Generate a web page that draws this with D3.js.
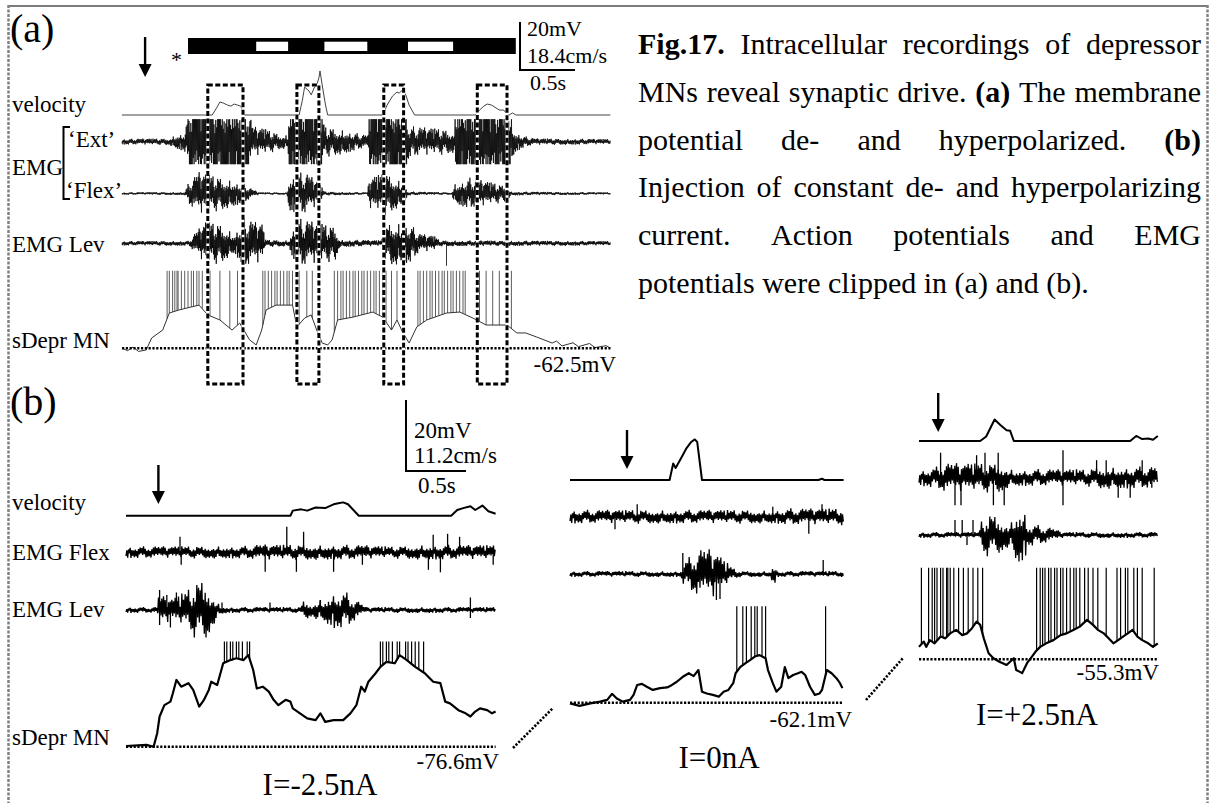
<!DOCTYPE html>
<html>
<head>
<meta charset="utf-8">
<script src="https://cdn.jsdelivr.net/npm/d3@7"></script>
<style>
  html, body { margin: 0; padding: 0; background: #fff; }
  svg { display: block; }
  text { font-family: "Liberation Serif", "Times New Roman", serif; fill: #000; }
</style>
</head>
<body>
<svg id="fig" width="1210" height="803"></svg>
<script>
// ---------------- data ----------------
// Panel (a): time in s, membrane potential in mV, velocity in cm/s, EMG in relative units
const aRest = -62.5;
const aMembrane = [[0,-62.4],[0.05,-63.5],[0.1,-62.0],[0.15,-63.8],[0.22,-63.2],[0.27,-58.2],[0.37,-54.9],[0.43,-47.8],[0.52,-46.5],[0.70,-44.5],[0.78,-48.6],[0.89,-50.7],[1.00,-54.9],[1.07,-52.0],[1.16,-59.0],[1.22,-61.1],[1.27,-54.9],[1.31,-46.5],[1.40,-44.5],[1.55,-44.5],[1.59,-53.6],[1.66,-49.9],[1.72,-48.6],[1.77,-54.9],[1.82,-60.3],[1.87,-61.1],[1.91,-59.0],[1.96,-50.7],[2.10,-49.5],[2.28,-47.4],[2.37,-49.5],[2.45,-54.9],[2.50,-50.7],[2.55,-55.7],[2.61,-60.3],[2.68,-53.6],[2.77,-50.7],[2.95,-47.8],[3.07,-47.4],[3.19,-49.9],[3.31,-52.8],[3.50,-52.8],[3.59,-56.1],[3.67,-56.1],[3.77,-57.8],[3.91,-60.3],[3.95,-59.5],[4.0,-61.5],[4.1,-60.2],[4.15,-61.8],[4.25,-60.5],[4.3,-62.2],[4.4,-61.4],[4.44,-62.4]];
const aSpikes = [0.41,0.43,0.46,0.48,0.50,0.51,0.54,0.57,0.60,0.63,0.65,0.68,0.70,0.73,0.80,0.89,0.98,1.05,
  1.28,1.30,1.33,1.36,1.39,1.41,1.44,1.47,1.50,1.52,1.55,1.61,1.68,1.73,
  1.93,1.96,1.99,2.01,2.04,2.07,2.10,2.12,2.15,2.18,2.20,2.23,2.26,2.29,2.31,2.34,2.37,2.40,2.45,2.50,2.55,
  2.69,2.71,2.74,2.77,2.80,2.82,2.85,2.88,2.91,2.93,2.96,2.99,3.01,3.04,3.07,3.10,3.12,3.25,3.31,3.37,3.43,3.50,3.54];
const aSpikeClip = -30.2;
const aVelocity = [[0,0],[0.82,0],[0.86,2.7],[0.89,5.0],[0.92,4.6],[0.96,3.8],[0.99,3.4],[1.02,4.2],[1.05,3.8],[1.08,3.4],[1.10,1.1],[1.11,0],[1.61,0],[1.64,5.7],[1.66,10.7],[1.70,9.2],[1.72,7.7],[1.75,10.7],[1.77,11.5],[1.79,14.2],[1.80,16.9],[1.82,11.5],[1.85,3.8],[1.87,0],[2.37,0],[2.41,3.8],[2.46,7.3],[2.50,8.8],[2.52,8.4],[2.55,9.6],[2.58,7.7],[2.61,3.8],[2.66,0],[3.21,0],[3.25,1.9],[3.29,3.4],[3.32,4.2],[3.36,3.8],[3.40,2.7],[3.43,1.9],[3.47,1.9],[3.50,0.4],[3.52,0],[3.55,0.8],[3.58,0],[4.44,0]];
const aExtEnv = [[0,0.13],[0.43,0.15],[0.48,0.3],[0.57,0.45],[0.63,2.2],[1.11,2.2],[1.19,0.7],[1.30,0.6],[1.43,0.35],[1.51,0.3],[1.52,2.2],[1.81,2.2],[1.84,0.7],[2.02,0.55],[2.16,0.35],[2.24,0.3],[2.25,2.2],[2.57,2.2],[2.61,0.7],[2.89,0.6],[3.02,0.5],[3.04,2.2],[3.50,2.2],[3.57,0.5],[3.66,0.25],[3.75,0.15],[4.44,0.12]];
const aFlexEnv = [[0,0.06],[0.57,0.08],[0.61,0.6],[0.70,1.1],[0.93,0.8],[1.11,0.5],[1.19,0.2],[1.25,0.06],[1.50,0.06],[1.52,0.9],[1.66,1.1],[1.79,0.6],[1.84,0.1],[2.23,0.06],[2.25,0.8],[2.39,1.1],[2.55,0.6],[2.60,0.1],[3.00,0.06],[3.02,0.5],[3.16,0.8],[3.34,0.6],[3.49,0.4],[3.54,0.1],[4.44,0.06]];
const aLevEnv = [[0,0.09],[0.61,0.1],[0.66,0.4],[0.76,0.9],[0.90,0.8],[1.02,0.4],[1.11,1.0],[1.28,0.8],[1.30,0.15],[1.52,0.12],[1.54,0.5],[1.61,1.0],[1.94,0.7],[1.98,0.15],[2.36,0.12],[2.39,0.6],[2.44,0.9],[2.62,0.8],[2.70,0.4],[2.84,0.3],[2.89,0.12],[4.44,0.09]];
const aLevSpikes = [[2.95,-0.9]];
const aBarSpan = [0.60, 3.58];
const aBarGaps = [[1.22,1.51],[1.84,2.23],[2.60,3.01]];
const aBoxes = [[0.78,1.10],[1.59,1.79],[2.38,2.56],[3.23,3.50]];
const aArrowT = 0.21;

// Panel (b), I = -2.5 nA
const bLeftRest = -76.6;
const bLeftMembrane = [[0,-76.4],[0.17,-76.1],[0.23,-76.6],[0.26,-72.8],[0.28,-68.1],[0.32,-64.9],[0.37,-63.9],[0.39,-61.6],[0.42,-57.8],[0.46,-59.7],[0.52,-58.7],[0.56,-60.6],[0.61,-65.3],[0.65,-63.4],[0.69,-60.6],[0.71,-58.3],[0.76,-59.2],[0.81,-53.1],[0.87,-52.2],[0.92,-51.7],[0.98,-52.2],[1.02,-50.8],[1.06,-55.0],[1.09,-60.2],[1.14,-59.7],[1.19,-61.1],[1.23,-63.4],[1.27,-64.9],[1.33,-63.4],[1.37,-63.9],[1.39,-65.8],[1.45,-67.2],[1.51,-68.6],[1.58,-69.1],[1.62,-67.2],[1.66,-69.6],[1.73,-69.1],[1.81,-69.1],[1.87,-67.2],[1.92,-64.9],[1.96,-59.7],[1.99,-61.1],[2.02,-58.3],[2.08,-55.9],[2.12,-54.1],[2.17,-52.7],[2.24,-53.1],[2.28,-50.8],[2.34,-52.2],[2.41,-54.1],[2.49,-55.9],[2.56,-58.3],[2.62,-58.7],[2.66,-63.9],[2.70,-64.4],[2.77,-66.3],[2.83,-67.2],[2.87,-68.1],[2.91,-66.7],[2.95,-65.8],[3.01,-66.3],[3.05,-67.2],[3.08,-66.7]];
const bLeftSpikes = [0.82,0.84,0.87,0.89,0.92,0.94,0.97,1.01,1.03,2.12,2.14,2.17,2.19,2.22,2.26,2.28,2.33,2.35,2.38,2.41,2.44,2.48];
const bLeftSpikeClip = -47.0;
const bLeftVelocity = [[0,0],[1.37,0],[1.39,0.8],[1.46,1.0],[1.51,0.8],[1.58,1.3],[1.66,1.2],[1.73,1.8],[1.78,2.0],[1.81,2.1],[1.85,1.8],[1.94,0],[2.71,0],[2.76,0.9],[2.81,1.2],[2.87,1.5],[2.91,0.9],[2.97,1.6],[3.02,0.7],[3.08,0.3]];
const bLeftFlexEnv = [[0,0.24],[1.0,0.26],[1.1,0.32],[1.95,0.3],[2.2,0.24],[2.45,0.3],[3.08,0.3]];
const bLeftFlexSpikes = [[0.45,0.62],[0.46,-0.5],[1.16,-0.78],[1.34,1.02],[1.42,-0.78],[1.48,0.82],[1.73,-0.78],[1.97,-0.5],[2.52,-0.7],[2.56,0.7],[2.62,-0.8],[2.68,0.74],[2.78,0.62],[3.06,-0.5]];
const bLeftLevEnv = [[0,0.12],[0.26,0.12],[0.27,0.6],[0.40,0.5],[0.50,0.8],[0.60,1.25],[0.68,1.25],[0.73,0.6],[0.78,0.2],[0.85,0.12],[1.45,0.12],[1.48,0.4],[1.55,0.3],[1.65,0.5],[1.75,0.8],[1.85,0.7],[1.95,0.3],[2.0,0.12],[3.08,0.12]];
const bLeftLevSpikes = [[0.28,0.8],[0.28,-0.6],[0.34,0.6],[0.37,-0.7],[0.42,0.7],[0.8,0.3],[1.2,0.3],[1.62,0.4],[2.87,0.5],[2.87,-0.32]];
const bLeftArrowT = 0.27;

// Panel (b), I = 0 nA
const bMidRest = -62.1;
const bMidMembrane = [[0,-62.3],[0.08,-63.0],[0.17,-62.3],[0.25,-61.8],[0.31,-61.3],[0.35,-59.6],[0.39,-60.9],[0.44,-61.8],[0.50,-61.3],[0.53,-59.9],[0.56,-57.1],[0.60,-56.8],[0.64,-57.6],[0.69,-58.5],[0.75,-58.0],[0.81,-57.8],[0.85,-57.1],[0.89,-56.2],[0.94,-54.8],[0.99,-53.8],[1.03,-54.6],[1.07,-52.9],[1.10,-59.0],[1.14,-59.5],[1.19,-59.9],[1.24,-60.4],[1.28,-59.0],[1.32,-58.5],[1.36,-56.6],[1.38,-53.8],[1.42,-52.0],[1.46,-51.0],[1.50,-50.1],[1.54,-49.1],[1.58,-48.7],[1.63,-49.6],[1.65,-52.9],[1.69,-56.6],[1.72,-59.0],[1.76,-57.6],[1.79,-52.1],[1.82,-55.2],[1.86,-54.3],[1.90,-53.8],[1.93,-53.4],[1.96,-54.3],[2.0,-57.6],[2.04,-59.9],[2.08,-59.5],[2.10,-58.5],[2.14,-52.9],[2.18,-53.8],[2.22,-55.2],[2.25,-56.6],[2.27,-58.0]];
const bMidSpikes = [1.39,1.44,1.47,1.51,1.54,1.56,1.60,1.63,2.13];
const bMidSpikeClip = -34.9;
const bMidVelocity = [[0,0],[0.83,0],[0.86,2.6],[0.88,1.9],[0.93,3.6],[0.97,5.0],[1.01,6.0],[1.04,6.4],[1.06,6.0],[1.10,0],[2.07,0],[2.10,0.2],[2.12,0],[2.28,0]];
const bMidFlexEnv = [[0,0.28],[1.7,0.28],[1.85,0.34],[2.28,0.34]];
const bMidFlexSpikes = [[0.375,-0.5],[0.56,0.5],[1.69,0.4],[1.99,-0.68],[2.1,0.5]];
const bMidLevEnv = [[0,0.12],[0.92,0.12],[0.95,0.5],[1.02,0.8],[1.10,1.05],[1.20,1.0],[1.28,0.6],[1.36,0.25],[1.42,0.12],[1.67,0.12],[1.69,0.4],[1.71,0.4],[1.73,0.12],[2.28,0.12]];
const bMidLevSpikes = [[0.94,0.84],[1.22,-1.04],[1.25,-1.0],[2.11,0.56]];
const bMidArrowT = 0.475;

// Panel (b), I = +2.5 nA
const bRightRest = -55.3;
const bRightMembrane = [[0,-51.8],[0.04,-50.3],[0.06,-51.8],[0.09,-49.9],[0.13,-50.8],[0.18,-48.9],[0.22,-49.4],[0.26,-48.0],[0.31,-47.0],[0.36,-48.5],[0.40,-48.0],[0.44,-46.6],[0.48,-44.7],[0.51,-45.6],[0.54,-49.4],[0.58,-53.6],[0.62,-55.0],[0.67,-56.0],[0.73,-56.9],[0.79,-55.0],[0.81,-58.3],[0.86,-59.2],[0.90,-56.4],[0.94,-54.6],[0.97,-53.2],[1.01,-51.8],[1.06,-50.8],[1.12,-49.9],[1.18,-48.5],[1.23,-48.0],[1.29,-47.0],[1.34,-46.1],[1.40,-44.2],[1.45,-45.6],[1.49,-47.0],[1.54,-48.0],[1.58,-49.4],[1.62,-50.8],[1.66,-49.9],[1.70,-48.9],[1.74,-48.0],[1.78,-47.0],[1.82,-48.9],[1.86,-49.9],[1.91,-50.8],[1.95,-51.8],[1.99,-50.8]];
const bRightSpikes = [0.02,0.08,0.11,0.13,0.15,0.18,0.20,0.23,0.24,0.26,0.29,0.33,0.37,0.41,0.45,0.49,0.53,
  0.98,1.01,1.03,1.05,1.08,1.10,1.13,1.15,1.18,1.20,1.23,1.26,1.29,1.31,1.34,1.38,1.41,1.45,1.49,1.56,1.65,1.68,1.72,1.74,1.79,1.82,1.86,1.96];
const bRightSpikeClip = -29.5;
const bRightVelocity = [[0,0],[0.51,0],[0.56,0.7],[0.63,3.4],[0.68,2.5],[0.73,1.7],[0.76,1.6],[0.79,0],[1.76,0],[1.81,0.8],[1.86,0.3],[1.91,0.4],[1.95,0.2],[1.99,0.8]];
const bRightFlexEnv = [[0,0.32],[0.15,0.45],[0.2,0.6],[0.7,0.6],[0.75,0.35],[1.4,0.35],[1.5,0.45],[1.99,0.45]];
const bRightFlexSpikes = [[0.18,1.0],[0.30,-1.1],[0.35,-1.1],[0.48,0.9],[0.55,1.0],[0.62,-1.1],[0.66,1.0],[0.71,-1.1],[1.2,1.1],[1.2,-1.1],[1.48,0.7],[1.56,0.7],[1.66,-0.8],[1.76,-0.8],[1.86,0.7],[1.94,-0.4]];
const bRightLevEnv = [[0,0.12],[0.50,0.12],[0.53,0.8],[0.60,0.9],[0.70,0.7],[0.74,0.5],[0.78,0.6],[0.80,1.15],[0.88,1.15],[0.90,0.5],[1.0,0.4],[1.1,0.3],[1.2,0.12],[1.99,0.12]];
const bRightLevSpikes = [[0.30,0.6],[0.36,0.6],[0.45,0.6],[0.40,-0.4]];
const bRightArrowT = 0.16;

// scale-bar values and labels
const aScaleLabels = ["20mV", "18.4cm/s", "0.5s"];
const bScaleLabels = ["20mV", "11.2cm/s", "0.5s"];
const restLabels = ["-62.5mV", "-76.6mV", "-62.1mV", "-55.3mV"];
const currentLabels = ["I=-2.5nA", "I=0nA", "I=+2.5nA"];

// texture of the EMG band (relative deflection per sample)
const grain = [0.62,0.31,0.88,0.47,0.19,0.74,0.95,0.38,0.56,0.27,0.81,0.43,0.66,0.22,0.91,0.52,0.35,0.78,0.17,0.69,0.44,0.99,0.29,0.58,0.83,0.24,0.71,0.40,0.63,0.20,0.86,0.49,0.33,0.76,0.55,0.93,0.26,0.67,0.41,0.84,0.18,0.60,0.37,0.79,0.50,0.97,0.30,0.72,0.45,0.21,0.89,0.57,0.34,0.65,0.25,0.80,0.46,0.70,0.28,0.92,0.53];

// ---------------- drawing ----------------
const svg = d3.select("#fig");

function interp(arr, t) {
  if (t <= arr[0][0]) return arr[0][1];
  for (let k = 1; k < arr.length; k++) {
    if (t <= arr[k][0]) {
      const [t0, v0] = arr[k - 1], [t1, v1] = arr[k];
      return t1 === t0 ? v1 : v0 + (v1 - v0) * (t - t0) / (t1 - t0);
    }
  }
  return arr[arr.length - 1][1];
}

function label(g, txt, x, y, size, anchor, weight) {
  return g.append("text").attr("x", x).attr("y", y)
    .attr("font-size", size).attr("text-anchor", anchor || "start")
    .attr("font-weight", weight || "normal").text(txt);
}

function dotted(g, x1, y1, x2, y2) {
  g.append("line").attr("x1", x1).attr("y1", y1).attr("x2", x2).attr("y2", y2)
    .attr("stroke", "#000").attr("stroke-width", 2.6).attr("stroke-dasharray", "2.2,1.6");
}

function arrow(g, x, yTop, yBot, head) {
  g.append("line").attr("x1", x).attr("x2", x).attr("y1", yTop).attr("y2", yBot - head + 2)
    .attr("stroke", "#000").attr("stroke-width", 2.4);
  g.append("path").attr("d", `M${x - head / 2},${yBot - head}L${x + head / 2},${yBot - head}L${x},${yBot}Z`).attr("fill", "#000");
}

function emg(g, x, cy, unit, clip, env, spikes, dur, step, sw) {
  const y = d3.scaleLinear().domain([-clip, clip]).range([cy + clip * unit, cy - clip * unit]).clamp(true);
  const pts = [];
  let i = 0;
  for (let t = 0; t <= dur + 1e-9; t += step, i++) {
    pts.push([t, (i % 2 ? 1 : -1) * interp(env, t) * grain[i % grain.length]]);
  }
  g.append("path").attr("d", d3.line().x(p => x(p[0])).y(p => y(p[1]))(pts))
    .attr("fill", "none").attr("stroke", "#000").attr("stroke-width", sw).attr("stroke-linejoin", "bevel");
  g.selectAll(null).data(spikes).join("line")
    .attr("x1", s => x(s[0])).attr("x2", s => x(s[0]))
    .attr("y1", cy).attr("y2", s => y(s[1]))
    .attr("stroke", "#000").attr("stroke-width", sw);
}

function membrane(g, x, yM, trace, spikes, clipMv, rest, sw, spikeSw, color) {
  g.selectAll(null).data(spikes).join("line")
    .attr("x1", t => x(t)).attr("x2", t => x(t))
    .attr("y1", t => yM(interp(trace, t))).attr("y2", yM(clipMv))
    .attr("stroke", color).attr("stroke-width", spikeSw);
  g.append("path").attr("d", d3.line().x(p => x(p[0])).y(p => yM(p[1]))(trace))
    .attr("fill", "none").attr("stroke", color).attr("stroke-width", sw).attr("stroke-linejoin", "round");
  const [t0, t1] = x.domain();
  dotted(g, x(t0), yM(rest), x(t1), yM(rest));
}

function velocity(g, x, yV, trace, sw, color) {
  g.append("path").attr("d", d3.line().x(p => x(p[0])).y(p => yV(p[1]))(trace))
    .attr("fill", "none").attr("stroke", color).attr("stroke-width", sw).attr("stroke-linejoin", "round");
}

// frame
svg.append("line").attr("x1", 8).attr("x2", 1208).attr("y1", 6).attr("y2", 6).attr("stroke", "#7b7b7b").attr("stroke-width", 2);
[8.5, 1207.5].forEach(xx => svg.append("line").attr("x1", xx).attr("x2", xx).attr("y1", 5).attr("y2", 803)
  .attr("stroke", "#808080").attr("stroke-width", 2.5).attr("stroke-dasharray", "3,1.5"));

// ---------- panel (a) ----------
const gA = svg.append("g");
const aDur = 4.44, aPxPerSec = 110, aBarPx = 48;
const xA = d3.scaleLinear().domain([0, aDur]).range([122, 122 + aDur * aPxPerSec]);
const yAv = d3.scaleLinear().domain([0, 18.4]).range([115, 115 - aBarPx]);
const yAm = d3.scaleLinear().domain([aRest, aRest + 20]).range([348.3, 348.3 - aBarPx]);

label(gA, "(a)", 10, 42, 40);
label(gA, "velocity", 12, 112, 23);
label(gA, "EMG", 12, 175, 23);
label(gA, "\u2018Ext\u2019", 68, 147, 23);
label(gA, "\u2018Flex\u2019", 66, 198, 23);
label(gA, "EMG Lev", 12, 252, 23);
label(gA, "sDepr MN", 12, 348, 23);
label(gA, restLabels[0], 616, 372, 23, "end");
gA.append("path").attr("d", "M70,127H63.5V199H70").attr("fill", "none").attr("stroke", "#000").attr("stroke-width", 2);

// movement bar
gA.append("rect").attr("x", xA(aBarSpan[0])).attr("y", 38).attr("width", xA(aBarSpan[1]) - xA(aBarSpan[0])).attr("height", 16).attr("fill", "#000");
gA.selectAll(null).data(aBarGaps).join("rect")
  .attr("x", d => xA(d[0])).attr("width", d => xA(d[1]) - xA(d[0]))
  .attr("y", 41.7).attr("height", 9.3).attr("fill", "#fff");
label(gA, "*", 171, 67, 22);
arrow(gA, xA(aArrowT), 37, 77, 13);

// scale bar (a)
{
  const sx = 520, sy = 70;
  const vLen = yAm(aRest) - yAm(aRest + 20), hLen = xA(0.5) - xA(0);
  gA.append("path").attr("d", `M${sx},${sy - vLen}V${sy}H${sx + hLen}`).attr("fill", "none").attr("stroke", "#000").attr("stroke-width", 2);
  label(gA, aScaleLabels[0], 527, 36, 22);
  label(gA, aScaleLabels[1], 527, 63, 22);
  label(gA, aScaleLabels[2], 530, 90, 22);
}

velocity(gA, xA, yAv, aVelocity, 1, "#444");
emg(gA, xA, 141.7, 22.5, 1.0, aExtEnv, [], aDur, 0.0042, 0.75);
emg(gA, xA, 193.5, 20, 1.1, aFlexEnv, [], aDur, 0.0042, 0.75);
emg(gA, xA, 243.3, 25, 1.0, aLevEnv, aLevSpikes, aDur, 0.0042, 0.8);
membrane(gA, xA, yAm, aMembrane, aSpikes, aSpikeClip, aRest, 1, 0.8, "#333");

// dashed windows
gA.selectAll(null).data(aBoxes).join("rect")
  .attr("x", d => xA(d[0])).attr("width", d => xA(d[1]) - xA(d[0]))
  .attr("y", 85).attr("height", 299).attr("fill", "none").attr("stroke", "#fff").attr("stroke-width", 3);
gA.selectAll(null).data(aBoxes).join("rect")
  .attr("x", d => xA(d[0])).attr("width", d => xA(d[1]) - xA(d[0]))
  .attr("y", 85).attr("height", 299).attr("fill", "none").attr("stroke", "#000").attr("stroke-width", 3)
  .attr("stroke-dasharray", "5,2.5");

// ---------- panel (b) ----------
const gB = svg.append("g");
const bPxPerSec = 120, bBarPx = 71;
label(gB, "(b)", 10, 415, 40);
label(gB, "velocity", 12, 510, 23);
label(gB, "EMG Flex", 12, 560, 23);
label(gB, "EMG Lev", 12, 617, 23);
label(gB, "sDepr MN", 12, 745, 23);

const bPanels = [
  { x0: 126, dur: 3.08, velY: 515.7, flexY: 552.3, levY: 610, baseY: 746.7, rest: bLeftRest,
    mem: bLeftMembrane, spikes: bLeftSpikes, clip: bLeftSpikeClip, vel: bLeftVelocity,
    flexEnv: bLeftFlexEnv, flexSp: bLeftFlexSpikes, levEnv: bLeftLevEnv, levSp: bLeftLevSpikes,
    arrowT: bLeftArrowT, arrowTop: 465, restLbl: restLabels[1], restX: 499, restY: 769,
    cur: currentLabels[0], curX: 320, curY: 795 },
  { x0: 570, dur: 2.28, velY: 480, flexY: 516.7, levY: 574, baseY: 702.7, rest: bMidRest,
    mem: bMidMembrane, spikes: bMidSpikes, clip: bMidSpikeClip, vel: bMidVelocity,
    flexEnv: bMidFlexEnv, flexSp: bMidFlexSpikes, levEnv: bMidLevEnv, levSp: bMidLevSpikes,
    arrowT: bMidArrowT, arrowTop: 430, restLbl: restLabels[2], restX: 852, restY: 727,
    cur: currentLabels[1], curX: 719, curY: 768 },
  { x0: 919, dur: 1.99, velY: 441, flexY: 477.7, levY: 535, baseY: 659.3, rest: bRightRest,
    mem: bRightMembrane, spikes: bRightSpikes, clip: bRightSpikeClip, vel: bRightVelocity,
    flexEnv: bRightFlexEnv, flexSp: bRightFlexSpikes, levEnv: bRightLevEnv, levSp: bRightLevSpikes,
    arrowT: bRightArrowT, arrowTop: 393, restLbl: restLabels[3], restX: 1159, restY: 680,
    cur: currentLabels[2], curX: 1037, curY: 725 }
];

bPanels.forEach(p => {
  const g = gB.append("g");
  const x = d3.scaleLinear().domain([0, p.dur]).range([p.x0, p.x0 + p.dur * bPxPerSec]);
  const yV = d3.scaleLinear().domain([0, 11.2]).range([p.velY, p.velY - bBarPx]);
  const yM = d3.scaleLinear().domain([p.rest, p.rest + 20]).range([p.baseY, p.baseY - bBarPx]);
  velocity(g, x, yV, p.vel, 2, "#000");
  emg(g, x, p.flexY, 25, 1.1, p.flexEnv, p.flexSp, p.dur, 1 / 144, 1.3);
  emg(g, x, p.levY, 25, 1.1, p.levEnv, p.levSp, p.dur, 1 / 144, 1.3);
  membrane(g, x, yM, p.mem, p.spikes, p.clip, p.rest, 2.2, 1.2, "#000");
  arrow(g, x(p.arrowT), p.arrowTop, p.arrowTop + 39, 13);
  label(g, p.restLbl, p.restX, p.restY, 23, "end");
  label(g, p.cur, p.curX, p.curY, 31, "middle");
  p.xScale = x; p.yM = yM;
});

// scale bar (b)
{
  const sx = 406, sy = 471;
  const x = bPanels[0].xScale, yM = bPanels[0].yM;
  const vLen = yM(bLeftRest) - yM(bLeftRest + 20), hLen = x(0.5) - x(0);
  gB.append("path").attr("d", `M${sx},${sy - vLen}V${sy}H${sx + hLen}`).attr("fill", "none").attr("stroke", "#000").attr("stroke-width", 2);
  label(gB, bScaleLabels[0], 414, 438, 23);
  label(gB, bScaleLabels[1], 414, 463, 23);
  label(gB, bScaleLabels[2], 418, 493, 23);
}

// dotted connectors between the three recordings
dotted(gB, 513, 748, 553, 708);
dotted(gB, 866, 700, 903, 658);

// ---------- caption ----------
const caption = [
  [["Fig.17.", 1], ["Intracellular", 0], ["recordings", 0], ["of", 0], ["depressor", 0]],
  [["MNs", 0], ["reveal", 0], ["synaptic", 0], ["drive.", 0], ["(a)", 1], ["The", 0], ["membrane", 0]],
  [["potential", 0], ["de-", 0], ["and", 0], ["hyperpolarized.", 0], ["(b)", 1]],
  [["Injection", 0], ["of", 0], ["constant", 0], ["de-", 0], ["and", 0], ["hyperpolarizing", 0]],
  [["current.", 0], ["Action", 0], ["potentials", 0], ["and", 0], ["EMG", 0]],
  [["potentials", 0], ["were", 0], ["clipped", 0], ["in", 0], ["(a)", 0], ["and", 0], ["(b).", 0]]
];
const gC = svg.append("g");
const capLeft = 638, capRight = 1201, capSize = 30, capTop = 54, capLead = 47.8;
caption.forEach((words, li) => {
  const y = capTop + li * capLead;
  const nodes = words.map(([w, b]) => label(gC, w, 0, y, capSize, "start", b ? "bold" : "normal"));
  const widths = nodes.map(n => n.node().getComputedTextLength());
  const total = d3.sum(widths);
  const last = li === caption.length - 1;
  const gap = last ? capSize * 0.25 : (capRight - capLeft - total) / (words.length - 1);
  let cx = capLeft;
  nodes.forEach((n, k) => { n.attr("x", cx); cx += widths[k] + gap; });
});
</script>
</body>
</html>
